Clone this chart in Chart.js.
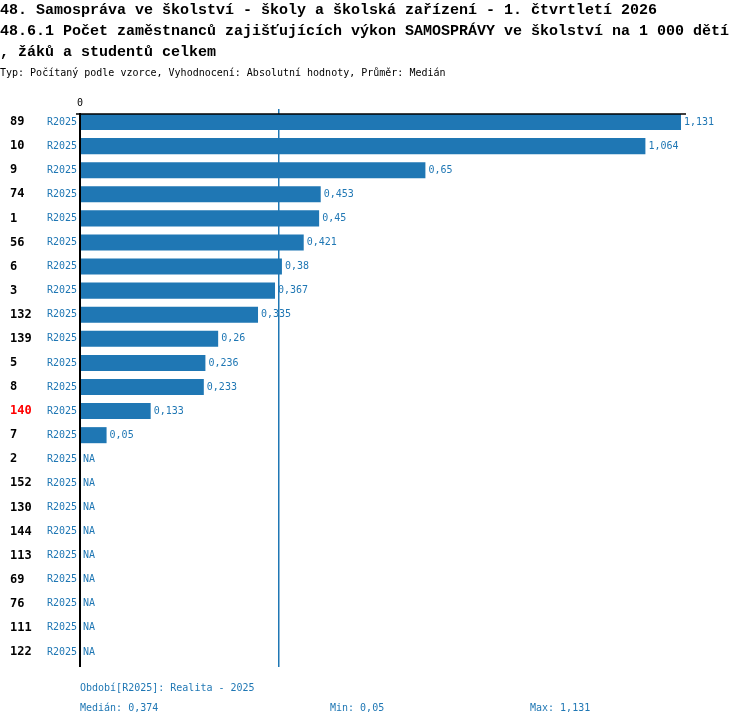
<!DOCTYPE html>
<html><head><meta charset="utf-8">
<script src="https://cdn.jsdelivr.net/npm/chart.js@4/dist/chart.umd.min.js"></script>
<style>html,body{margin:0;padding:0;background:#fff;}canvas{display:block;}</style>
</head><body>
<canvas id="c" width="750" height="726"></canvas>
<script>
const categories = ["89","10","9","74","1","56","6","3","132","139","5","8","140","7","2","152","130","144","113","69","76","111","122"];
const periodLabels = ["R2025","R2025","R2025","R2025","R2025","R2025","R2025","R2025","R2025","R2025","R2025","R2025","R2025","R2025","R2025","R2025","R2025","R2025","R2025","R2025","R2025","R2025","R2025"];
const values = [1.131,1.064,0.65,0.453,0.45,0.421,0.38,0.367,0.335,0.26,0.236,0.233,0.133,0.05,null,null,null,null,null,null,null,null,null];
const highlighted = ["140"];
const medianValue = 0.374;
const minValue = 0.05;
const maxValue = 1.131;
const titleLines = ["48. Samospráva ve školství - školy a školská zařízení - 1. čtvrtletí 2026","48.6.1 Počet zaměstnanců zajišťujících výkon SAMOSPRÁVY ve školství na 1 000 dětí",", žáků a studentů celkem"];
const subtitle = "Typ: Počítaný podle vzorce, Vyhodnocení: Absolutní hodnoty, Průměr: Medián";
const footerPeriod = "Období[R2025]: Realita - 2025";

const MONO = '"DejaVu Sans Mono", "Liberation Mono", monospace';
const TITLE = '"Liberation Mono", "DejaVu Sans Mono", monospace';
const BLUE = '#1f77b4';
const fmt = v => String(v).replace('.', ',');

const overlay = {
  id: 'overlay',
  beforeDatasetsDraw(chart) {
    const ctx = chart.ctx;
    const xs = chart.scales.x;
    const area = chart.chartArea;
    ctx.save();
    const mx = Math.round(xs.getPixelForValue(medianValue));
    ctx.fillStyle = BLUE;
    ctx.fillRect(mx - 1, area.top - 1, 1.5, area.bottom + 4 - area.top);
    ctx.restore();
  },
  afterDraw(chart) {
    const ctx = chart.ctx;
    const xs = chart.scales.x, ys = chart.scales.y;
    const area = chart.chartArea;
    ctx.save();
    ctx.textBaseline = 'middle';
    // titles
    ctx.fillStyle = '#000';
    ctx.font = 'bold 15px ' + TITLE;
    ctx.textAlign = 'left';
    titleLines.forEach((t, i) => ctx.fillText(t, 0, 10 + i * 21));
    ctx.font = '10px ' + MONO;
    ctx.fillText(subtitle, 0, 73);
    // zero label
    ctx.textAlign = 'center';
    ctx.fillText('0', xs.getPixelForValue(0), 103);
    // axes
    ctx.strokeStyle = '#000';
    ctx.lineWidth = 2;
    const x0 = xs.getPixelForValue(0);
    ctx.beginPath(); ctx.moveTo(x0, area.top + 3); ctx.lineTo(x0, area.bottom + 3); ctx.stroke();
    ctx.lineWidth = 1.5;
    ctx.beginPath(); ctx.moveTo(x0 - 4, area.top + 4); ctx.lineTo(area.right, area.top + 4); ctx.stroke();
    // row labels
    categories.forEach((c, i) => {
      const y = ys.getPixelForValue(i);
      ctx.textAlign = 'left';
      ctx.font = 'bold 12px ' + MONO;
      ctx.fillStyle = highlighted.includes(c) ? '#ff0000' : '#000';
      ctx.fillText(c, 10, y);
      ctx.font = '10px ' + MONO;
      ctx.fillStyle = BLUE;
      ctx.textAlign = 'right';
      ctx.fillText(periodLabels[i], 77, y);
      ctx.textAlign = 'left';
      const v = values[i];
      if (v === null) {
        ctx.fillText('NA', x0 + 3, y);
      } else {
        ctx.fillText(fmt(v), xs.getPixelForValue(v) + 3, y);
      }
    });
    // footer
    ctx.textAlign = 'left';
    ctx.fillStyle = BLUE;
    ctx.font = '10px ' + MONO;
    ctx.fillText(footerPeriod, 80, 688);
    ctx.fillText('Medián: ' + fmt(medianValue), 80, 708);
    ctx.fillText('Min: ' + fmt(minValue), 330, 708);
    ctx.fillText('Max: ' + fmt(maxValue), 530, 708);
    ctx.restore();
  }
};

new Chart(document.getElementById('c'), {
  type: 'bar',
  data: {
    labels: categories,
    datasets: [{
      data: values,
      backgroundColor: BLUE,
      borderWidth: 0,
      categoryPercentage: 1,
      barPercentage: 0.667
    }]
  },
  options: {
    indexAxis: 'y',
    responsive: false,
    animation: false,
    devicePixelRatio: 1,
    layout: { padding: { left: 80, right: 64, top: 110, bottom: 62 } },
    plugins: { legend: { display: false }, tooltip: { enabled: false } },
    scales: {
      x: { display: false, min: 0, max: 1.1404 },
      y: { display: false }
    }
  },
  plugins: [overlay]
});
</script>
</body></html>
